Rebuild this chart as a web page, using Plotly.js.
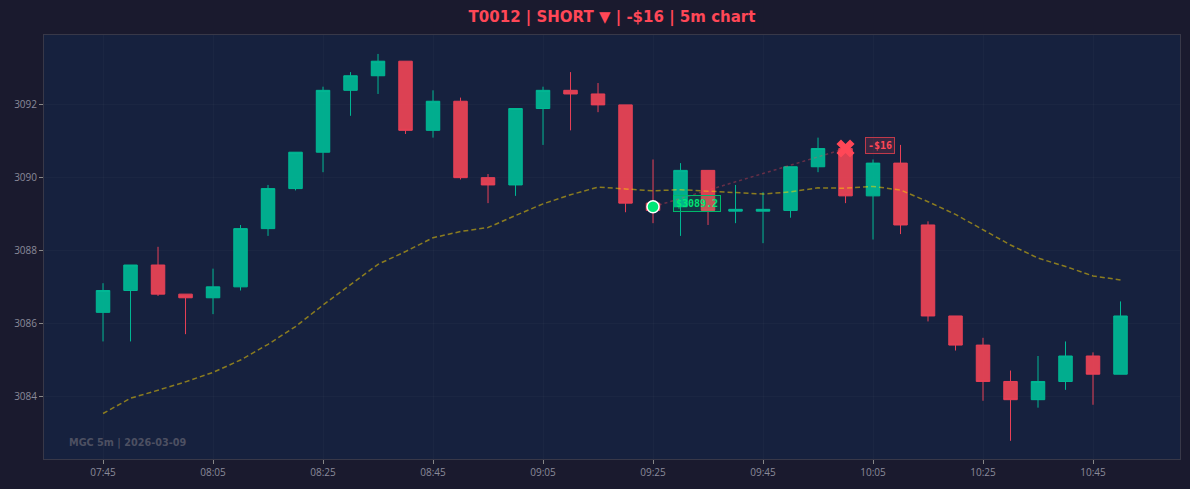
<!DOCTYPE html>
<html>
<head>
<meta charset="utf-8">
<script src="https://cdn.plot.ly/plotly-3.0.1.min.js"></script>
<style>
html,body{margin:0;padding:0;background:#1a1a2e;}
#chart{width:1190px;height:489px;}
</style>
</head>
<body>
<div id="chart"></div>
<script>
const day = '2026-03-09';
const times = ['07:45','07:50','07:55','08:00','08:05','08:10','08:15','08:20','08:25','08:30',
  '08:35','08:40','08:45','08:50','08:55','09:00','09:05','09:10','09:15','09:20',
  '09:25','09:30','09:35','09:40','09:45','09:50','09:55','10:00','10:05','10:10',
  '10:15','10:20','10:25','10:30','10:35','10:40','10:45','10:50'];
const opens = [3086.3,3086.9,3087.6,3086.8,3086.7,3087.0,3088.6,3089.7,3090.7,3092.4,
  3092.8,3093.2,3091.3,3092.1,3090.0,3089.8,3091.9,3092.4,3092.3,3092.0,
  3089.3,3089.2,3090.2,3089.08,3089.08,3089.1,3090.3,3090.8,3089.5,3090.4,
  3088.7,3086.2,3085.4,3084.4,3083.9,3084.4,3085.1,3084.6];
const highs = [3087.1,3087.6,3088.1,3086.8,3087.5,3088.7,3089.8,3090.7,3092.5,3092.9,
  3093.4,3093.2,3092.4,3092.2,3090.1,3091.9,3092.5,3092.9,3092.6,3092.0,
  3090.5,3090.4,3090.2,3089.8,3089.6,3090.3,3091.1,3090.9,3090.5,3090.9,
  3088.8,3086.2,3085.6,3084.7,3085.1,3085.5,3085.2,3086.6];
const lows = [3085.5,3085.5,3086.75,3085.7,3086.25,3086.9,3088.4,3089.65,3090.15,3091.7,
  3092.3,3091.2,3091.1,3089.95,3089.3,3089.5,3090.9,3091.3,3091.8,3089.05,
  3088.75,3088.4,3088.7,3088.75,3088.2,3088.9,3090.15,3089.3,3088.3,3088.45,
  3086.05,3085.25,3083.87,3082.77,3083.68,3084.17,3083.76,3084.6];
const closes = [3086.9,3087.6,3086.8,3086.7,3087.0,3088.6,3089.7,3090.7,3092.4,3092.8,
  3093.2,3091.3,3092.1,3090.0,3089.8,3091.9,3092.4,3092.3,3092.0,3089.3,
  3089.1,3090.2,3089.1,3089.13,3089.13,3090.3,3090.8,3089.5,3090.4,3088.7,
  3086.2,3085.4,3084.4,3083.9,3084.4,3085.1,3084.6,3086.2];
const ema = [3083.52,3083.94,3084.16,3084.39,3084.65,3084.99,3085.42,3085.91,3086.50,3087.07,
  3087.62,3087.97,3088.35,3088.52,3088.63,3088.96,3089.28,3089.53,3089.74,3089.69,
  3089.64,3089.67,3089.63,3089.59,3089.55,3089.61,3089.72,3089.71,3089.76,3089.66,
  3089.34,3088.99,3088.58,3088.15,3087.79,3087.56,3087.30,3087.19];
const tickLabels = ['07:45','08:05','08:25','08:45','09:05','09:25','09:45','10:05','10:25','10:45'];
const entryTime = '09:25', entryPrice = 3089.2;
const exitTime = '10:00', exitPrice = 3090.8;
const pnl = -16;
const titleText = 'T0012 | SHORT ▼ | -$16 | 5m chart';
const watermark = 'MGC 5m | 2026-03-09';

const ts = t => day + ' ' + t;
const x = times.map(ts);

const traces = [
  {
    type: 'candlestick', x: x, open: opens, high: highs, low: lows, close: closes,
    increasing: {line: {color: '#00b894', width: 1}, fillcolor: 'rgba(0,184,148,0.93)'},
    decreasing: {line: {color: '#e84057', width: 1}, fillcolor: 'rgba(255,71,87,0.85)'},
    whiskerwidth: 0, showlegend: false, hoverinfo: 'skip'
  },
  {
    type: 'scatter', mode: 'lines', x: x, y: ema,
    line: {color: 'rgba(255,215,0,0.5)', width: 1.5, dash: '5px,3px'},
    showlegend: false, hoverinfo: 'skip'
  },
  {
    type: 'scatter', mode: 'lines', x: [ts(entryTime), ts(exitTime)], y: [entryPrice, exitPrice],
    line: {color: 'rgba(255,71,87,0.35)', width: 1.5, dash: 'dot'},
    showlegend: false, hoverinfo: 'skip'
  },
  {
    type: 'scatter', mode: 'markers', x: [ts(entryTime)], y: [entryPrice],
    marker: {color: '#00e676', size: 12, line: {color: '#ffffff', width: 1.5}},
    showlegend: false, hoverinfo: 'skip'
  },
  {
    type: 'scatter', mode: 'markers', x: [ts(exitTime)], y: [exitPrice],
    marker: {color: '#ff4757', size: 16, symbol: 'x'},
    showlegend: false, hoverinfo: 'skip'
  }
];

const tickvals = tickLabels.map(ts);

const layout = {
  width: 1190, height: 489,
  paper_bgcolor: '#1a1a2e', plot_bgcolor: '#16213e',
  margin: {l: 44, r: 10, t: 35, b: 30},
  font: {family: 'Open Sans, sans-serif', color: '#8a8a9a', size: 10},
  title: {text: '<b>' + titleText + '</b>', font: {family: 'DejaVu Sans', size: 15, color: '#ff4757'},
          x: 0.5, xref: 'paper', xanchor: 'center', y: 0.965, yref: 'container', yanchor: 'middle', pad: {t:0,b:0}},
  showlegend: false,
  xaxis: {
    type: 'date', range: [ts('07:34:16'), ts('11:00:49')],
    tickvals: tickvals, ticktext: tickLabels,
    rangeslider: {visible: false},
    showgrid: true, gridcolor: 'rgba(255,255,255,0.025)',
    showline: true, mirror: true, linecolor: '#383848', linewidth: 1,
    ticks: 'outside', ticklen: 4, tickcolor: '#888', zeroline: false,
    tickfont: {size: 10, color: '#8a8a9a'}
  },
  yaxis: {
    range: [3082.27, 3093.92],
    tickvals: [3084, 3086, 3088, 3090, 3092],
    showgrid: true, gridcolor: 'rgba(255,255,255,0.025)',
    showline: true, mirror: true, linecolor: '#383848', linewidth: 1,
    ticks: 'outside', ticklen: 4, tickcolor: '#888', zeroline: false,
    tickfont: {size: 10, color: '#8a8a9a'}
  },
  annotations: [
    {
      x: ts(entryTime), y: entryPrice, xref: 'x', yref: 'y',
      text: '<b>$' + entryPrice.toFixed(1) + '</b>', showarrow: false,
      xanchor: 'left', yanchor: 'middle', xshift: 20, yshift: 3,
      font: {family: 'DejaVu Sans Mono', size: 10, color: '#00e676'},
      bgcolor: 'rgba(0,230,118,0.12)', bordercolor: '#00b86b', borderwidth: 1, borderpad: 2
    },
    {
      x: ts(exitTime), y: exitPrice, xref: 'x', yref: 'y',
      text: '<b>' + (pnl < 0 ? '-$' : '+$') + Math.abs(pnl) + '</b>', showarrow: false,
      xanchor: 'left', yanchor: 'middle', xshift: 19, yshift: 3,
      font: {family: 'DejaVu Sans Mono', size: 10, color: '#ff4757'},
      bgcolor: 'rgba(255,71,87,0.15)', bordercolor: '#c0394a', borderwidth: 1, borderpad: 2
    },
    {
      x: 0.02, y: 0.02, xref: 'paper', yref: 'paper', xanchor: 'left', yanchor: 'bottom',
      text: '<b>' + watermark + '</b>', showarrow: false,
      font: {family: 'DejaVu Sans', size: 9.7, color: '#4d5062'}
    }
  ]
};

Plotly.newPlot('chart', traces, layout, {displayModeBar: false, staticPlot: true});
</script>
</body>
</html>
